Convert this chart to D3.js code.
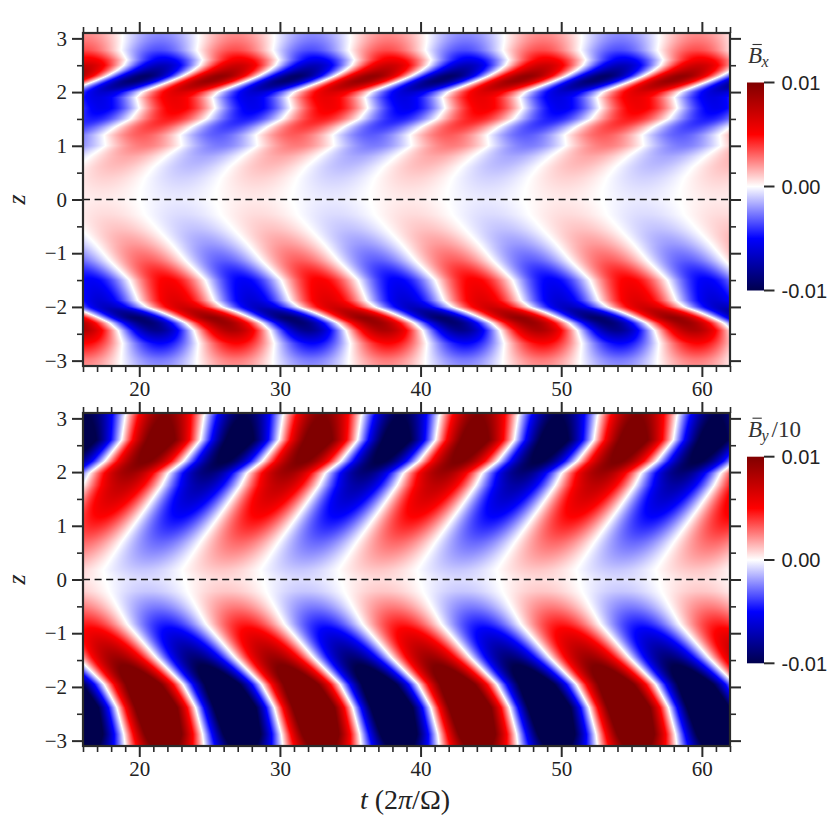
<!DOCTYPE html>
<html>
<head>
<meta charset="utf-8">
<script src="https://cdn.jsdelivr.net/npm/d3@7"></script>
<style>
  body { margin: 0; background: #fff; }
  svg { display: block; }
</style>
</head>
<body>
<script>
// axes
var tRange = [16, 62];
var zRange = [-3.1, 3.1];
var tTicks = [20, 30, 40, 50, 60];
var zTicks = [-3, -2, -1, 0, 1, 2, 3];
var cbTicks = [-0.01, 0, 0.01];
var cbTickLabels = ["-0.01", "0.00", "0.01"];

// Bx : for each height, time of the first red crest and the amplitude (in units of 0.01)
var bxZ     = [-3.1, -2.97, -2.68, -2.44, -2.3, -2.2, -2.1, -2.0, -1.88, -1.5, -1.14, -0.83, -0.55, -0.28, 0,
               0.2, 0.4, 0.6, 0.8, 1.0, 1.2, 1.35, 1.5, 1.7, 1.9, 2.0, 2.1, 2.2, 2.3, 2.4, 2.5, 2.6, 2.78, 2.95, 3.1];
var bxCrest = [26.8, 26.8, 26.9, 26.6, 26.0, 25.2, 24.3, 23.2, 22.6, 22.0, 20.6, 19.6, 18.6, 17.7, 17.3,
               17.4, 17.7, 18.3, 19.2, 20.3, 20.2, 21.0, 22.1, 22.7, 22.5, 22.9, 23.9, 24.9, 25.8, 26.5, 27.0, 27.2, 26.8, 26.9, 26.9];
var bxAmp   = [0.22, 0.27, 0.5, 0.82, 0.9, 0.92, 0.8, 0.68, 0.62, 0.52, 0.32, 0.2, 0.12, 0.07, 0.04,
               0.06, 0.09, 0.13, 0.17, 0.26, 0.32, 0.38, 0.45, 0.55, 0.58, 0.64, 0.78, 0.9, 0.92, 0.8, 0.7, 0.55, 0.35, 0.27, 0.22];
// crest times of the successive cycles on one row
var bxCycles = [22.4, 33.2, 44.2, 55.2];

// By/10
var byZ     = [-3.1, -2.88, -2.38, -1.95, -1.45, -0.83, -0.53, -0.22, 0, 0.18, 0.7, 1.3, 1.75, 1.98, 2.2, 2.6, 3.04, 3.1];
var byCrest = [21.8, 21.7, 21.2, 20.3, 18.4, 16.35, 15.7, 15.05, 14.8, 14.65, 15.95, 17.6, 18.8, 19.25, 20.35, 21.55, 21.8, 21.9];
var byAmp   = [1.15, 1.35, 1.5, 1.3, 0.88, 0.45, 0.27, 0.11, 0.07, 0.11, 0.3, 0.56, 0.75, 0.88, 1.02, 1.18, 1.0, 0.95];
var byCycles = [21.8, 33.0, 44.1, 55.4];

var W = 830, H = 830;
var plotL = 83, plotR = 730;
var frameColor = "#2b2b2b";
var serif = "'Liberation Serif', 'DejaVu Serif', serif";
var sans = "'Liberation Sans', Arial, sans-serif";

var panels = [
  { top: 33, bottom: 366, z: bxZ, crest: bxCrest, amp: bxAmp, cycles: bxCycles,
    cbTop: 82.5, cbBottom: 290.5, labelY: 63, sub: "x", extra: "" },
  { top: 413, bottom: 746, z: byZ, crest: byCrest, amp: byAmp, cycles: byCycles,
    cbTop: 456.7, cbBottom: 663.3, labelY: 436.7, sub: "y", extra: "/10" }
];

// matplotlib "seismic"
var cmap = d3.scaleLinear()
  .domain([-0.01, -0.005, 0, 0.005, 0.01])
  .range(["#00004d", "#0000ff", "#ffffff", "#ff0000", "#800000"])
  .interpolate(d3.interpolateRgb)
  .clamp(true);

var LUTN = 1024;
var lut = d3.range(LUTN).map(function(i) {
  return d3.rgb(cmap(-0.01 + 0.02 * i / (LUTN - 1)));
});

var svg = d3.select("body").append("svg")
  .attr("width", W).attr("height", H)
  .attr("viewBox", "0 0 " + W + " " + H);

var x = d3.scaleLinear().domain(tRange).range([plotL, plotR]);

function minusFmt(d) { return d < 0 ? "\u2212" + (-d) : String(d); }

function drawField(g, p, y) {
  var w = plotR - plotL, h = p.bottom - p.top;
  var canvas = document.createElement("canvas");
  canvas.width = w; canvas.height = h;
  var ctx = canvas.getContext("2d");
  var img = ctx.createImageData(w, h);
  var crestAt = d3.scaleLinear().domain(p.z).range(p.crest);
  var ampAt = d3.scaleLinear().domain(p.z).range(p.amp);
  var cycleAt = d3.scaleLinear().domain(p.cycles).range(d3.range(p.cycles.length));
  for (var j = 0; j < h; j++) {
    var z = y.invert(p.top + j + 0.5);
    var shift = crestAt(z) - p.cycles[0];
    var a = ampAt(z) * 0.01;
    for (var i = 0; i < w; i++) {
      var t = x.invert(plotL + i + 0.5);
      var v = a * Math.cos(2 * Math.PI * cycleAt(t - shift));
      var k = Math.round((v + 0.01) / 0.02 * (LUTN - 1));
      if (k < 0) k = 0; if (k > LUTN - 1) k = LUTN - 1;
      var c = lut[k], o = 4 * (j * w + i);
      img.data[o] = c.r; img.data[o + 1] = c.g; img.data[o + 2] = c.b; img.data[o + 3] = 255;
    }
  }
  ctx.putImageData(img, 0, 0);
  g.append("image")
    .attr("x", plotL).attr("y", p.top)
    .attr("width", w).attr("height", h)
    .attr("preserveAspectRatio", "none")
    .attr("href", canvas.toDataURL());
}

function styleAxis(sel, width) {
  sel.select(".domain").remove();
  sel.selectAll(".tick line").attr("stroke", frameColor).attr("stroke-width", width);
  sel.selectAll(".tick text")
    .attr("fill", "#222")
    .style("font-family", serif)
    .style("font-size", "21px");
}

function drawAxes(g, p, y) {
  var minorT = d3.range(17, 62).filter(function(t) { return t % 10 !== 0; });
  var minorZ = [-2.5, -1.5, -0.5, 0.5, 1.5, 2.5];

  g.append("g").attr("transform", "translate(0," + p.bottom + ")")
    .call(d3.axisBottom(x).tickValues(tTicks).tickSize(11).tickPadding(4).tickSizeOuter(0))
    .call(styleAxis, 2);
  g.append("g").attr("transform", "translate(0," + p.bottom + ")")
    .call(d3.axisBottom(x).tickValues(minorT.concat([16, 62])).tickSize(6).tickFormat(""))
    .call(styleAxis, 1.6);
  g.append("g").attr("transform", "translate(0," + p.top + ")")
    .call(d3.axisTop(x).tickValues(tTicks).tickSize(11).tickFormat(""))
    .call(styleAxis, 2);
  g.append("g").attr("transform", "translate(0," + p.top + ")")
    .call(d3.axisTop(x).tickValues(minorT.concat([16, 62])).tickSize(6).tickFormat(""))
    .call(styleAxis, 1.6);

  g.append("g").attr("transform", "translate(" + plotL + ",0)")
    .call(d3.axisLeft(y).tickValues(zTicks).tickSize(11).tickPadding(5).tickFormat(minusFmt))
    .call(styleAxis, 2);
  g.append("g").attr("transform", "translate(" + plotL + ",0)")
    .call(d3.axisLeft(y).tickValues(minorZ).tickSize(6).tickFormat(""))
    .call(styleAxis, 1.6);
  g.append("g").attr("transform", "translate(" + plotR + ",0)")
    .call(d3.axisRight(y).tickValues(zTicks).tickSize(11).tickFormat(""))
    .call(styleAxis, 2);
  g.append("g").attr("transform", "translate(" + plotR + ",0)")
    .call(d3.axisRight(y).tickValues(minorZ).tickSize(6).tickFormat(""))
    .call(styleAxis, 1.6);

  // midplane
  g.append("line")
    .attr("x1", plotL).attr("x2", plotR)
    .attr("y1", y(0)).attr("y2", y(0))
    .attr("stroke", "#111").attr("stroke-width", 1.6)
    .attr("stroke-dasharray", "7,4.6");

  g.append("rect")
    .attr("x", plotL).attr("y", p.top)
    .attr("width", plotR - plotL).attr("height", p.bottom - p.top)
    .attr("fill", "none").attr("stroke", frameColor).attr("stroke-width", 2.2);

  g.append("text")
    .attr("transform", "translate(25," + y(0) + ") rotate(-90)")
    .attr("text-anchor", "middle")
    .style("font-family", serif).style("font-style", "italic").style("font-size", "26px")
    .attr("fill", "#222")
    .text("z");
}

function drawColorbar(g, p, idx) {
  var cbL = 747, cbW = 17;
  var cy = d3.scaleLinear().domain([-0.01, 0.01]).range([p.cbBottom, p.cbTop]);
  var gradId = "cbgrad" + idx;
  var grad = svg.append("defs").append("linearGradient")
    .attr("id", gradId).attr("x1", 0).attr("y1", 1).attr("x2", 0).attr("y2", 0);
  d3.range(0, 41).forEach(function(i) {
    var v = -0.01 + 0.02 * i / 40;
    grad.append("stop").attr("offset", (i / 40)).attr("stop-color", cmap(v));
  });
  g.append("rect")
    .attr("x", cbL).attr("y", p.cbTop)
    .attr("width", cbW).attr("height", p.cbBottom - p.cbTop)
    .attr("fill", "url(#" + gradId + ")");

  var ticks = g.selectAll(".cbtick").data(cbTicks).enter().append("g")
    .attr("transform", function(d) { return "translate(" + (cbL + cbW) + "," + cy(d) + ")"; });
  ticks.append("line").attr("x1", 0).attr("x2", 10.5)
    .attr("stroke", frameColor).attr("stroke-width", 2);
  ticks.append("text")
    .attr("x", 17.5).attr("dy", "0.36em")
    .style("font-family", sans).style("font-size", "20px")
    .attr("fill", "#222")
    .text(function(d, i) { return cbTickLabels[i]; });

  // label  B-bar with subscript
  var lab = g.append("g");
  var b = lab.append("text")
    .attr("x", 748).attr("y", p.labelY)
    .style("font-family", serif).style("font-style", "italic").style("font-size", "23px")
    .attr("fill", "#333")
    .text("B");
  var bb = b.node().getBBox();
  lab.append("line")
    .attr("x1", bb.x + bb.width * 0.32).attr("x2", bb.x + bb.width * 0.98)
    .attr("y1", bb.y + 1.5).attr("y2", bb.y + 1.5)
    .attr("stroke", "#333").attr("stroke-width", 1.1);
  var s = lab.append("text")
    .attr("x", bb.x + bb.width - 0.5).attr("y", p.labelY + 4)
    .style("font-family", serif).style("font-style", "italic").style("font-size", "16px")
    .attr("fill", "#333")
    .text(p.sub);
  if (p.extra) {
    var sb = s.node().getBBox();
    lab.append("text")
      .attr("x", sb.x + sb.width + 2).attr("y", p.labelY)
      .style("font-family", serif).style("font-size", "23px")
      .attr("fill", "#333")
      .text(p.extra);
  }
}

panels.forEach(function(p, idx) {
  var y = d3.scaleLinear().domain(zRange).range([p.bottom, p.top]);
  var g = svg.append("g");
  drawField(g, p, y);
  drawAxes(g, p, y);
  drawColorbar(g, p, idx);
});

// x label
var xl = svg.append("text")
  .attr("x", 405).attr("y", 809)
  .attr("text-anchor", "middle")
  .style("font-family", serif).style("font-size", "28px")
  .attr("fill", "#222");
xl.append("tspan").style("font-style", "italic").text("t");
xl.append("tspan").text(" (2");
xl.append("tspan").style("font-style", "italic").text("\u03c0");
xl.append("tspan").text("/\u03a9)");
</script>
</body>
</html>
